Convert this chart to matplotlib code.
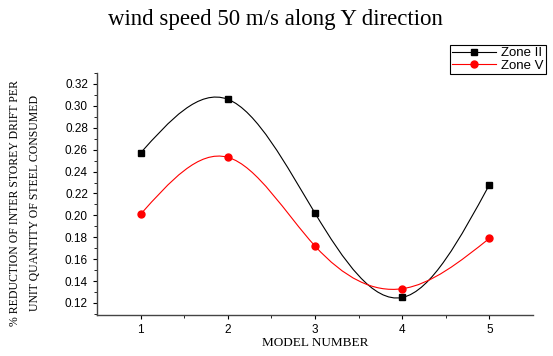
import numpy as np
import matplotlib.pyplot as plt
from matplotlib.path import Path
from matplotlib.patches import PathPatch
from matplotlib.lines import Line2D

models = [1, 2, 3, 4, 5]
zone2 = [0.257, 0.306, 0.202, 0.125, 0.228]
zone5 = [0.201, 0.253, 0.172, 0.133, 0.179]
xticks = [1, 2, 3, 4, 5]
yticks = [0.12, 0.14, 0.16, 0.18, 0.20, 0.22, 0.24, 0.26, 0.28, 0.30, 0.32]


def spline_path(x, y):
    # natural cubic spline through the points, as bezier segments
    x = np.asarray(x, float)
    y = np.asarray(y, float)
    n = len(x)
    h = np.diff(x)
    A = np.zeros((n, n))
    b = np.zeros(n)
    A[0, 0] = A[-1, -1] = 1
    for i in range(1, n - 1):
        A[i, i - 1] = h[i - 1]
        A[i, i] = 2 * (h[i - 1] + h[i])
        A[i, i + 1] = h[i]
        b[i] = 6 * ((y[i + 1] - y[i]) / h[i] - (y[i] - y[i - 1]) / h[i - 1])
    M = np.linalg.solve(A, b)
    d = np.zeros(n)
    for i in range(n - 1):
        d[i] = (y[i + 1] - y[i]) / h[i] - h[i] * (2 * M[i] + M[i + 1]) / 6
    d[-1] = (y[-1] - y[-2]) / h[-1] + h[-1] * (M[-2] + 2 * M[-1]) / 6
    verts = [(x[0], y[0])]
    codes = [Path.MOVETO]
    for i in range(n - 1):
        verts += [(x[i] + h[i] / 3, y[i] + d[i] * h[i] / 3),
                  (x[i + 1] - h[i] / 3, y[i + 1] - d[i + 1] * h[i] / 3),
                  (x[i + 1], y[i + 1])]
        codes += [Path.CURVE4] * 3
    return Path(verts, codes)


fig = plt.figure(figsize=(5.53, 3.56), dpi=100)
ax = fig.add_axes([97 / 553, 1 - 315 / 356, 436 / 553, 242 / 356])

for ys, col in [(zone2, 'black'), (zone5, 'red')]:
    ax.add_patch(PathPatch(spline_path(models, ys), fill=False, edgecolor=col, lw=0.8))
ax.plot(models, zone2, 's', color='black', ms=4.5)
ax.plot(models, zone5, 'o', color='red', ms=5)

ax.set_xlim(0.5, 5.5)
ax.set_ylim(0.109, 0.330)
ax.set_xticks(xticks)
ax.set_yticks(yticks)
ax.set_xticks([1.5, 2.5, 3.5, 4.5], minor=True)
ax.set_yticks(np.arange(0.11, 0.33, 0.02), minor=True)
ax.set_yticklabels(['%.2f' % v for v in yticks])
ax.tick_params(labelsize=8.5, direction='out', length=3, width=0.8, colors='black')
ax.tick_params(which='minor', direction='out', length=2, width=0.6)
for lab in ax.get_xticklabels() + ax.get_yticklabels():
    lab.set_family('Liberation Sans')
ax.spines['top'].set_visible(False)
ax.spines['right'].set_visible(False)
for s in ['left', 'bottom']:
    ax.spines[s].set_color('#444444')
    ax.spines[s].set_linewidth(1.0)

fig.text(275 / 553, 1 - 20 / 356, 'wind speed 50 m/s along Y direction',
         ha='center', va='center', family='Liberation Serif', fontsize=16.5)
fig.text(315 / 553, 1 - 343 / 356, 'MODEL NUMBER', ha='center', va='center',
         family='Liberation Serif', fontsize=9.5)
fig.text(15 / 553, 1 - 203 / 356, '% REDUCTION OF INTER STOREY DRIFT PER',
         rotation=90, ha='center', va='center', family='Liberation Serif', fontsize=8.5)
fig.text(35 / 553, 1 - 203 / 356, 'UNIT QUANTITY OF STEEL CONSUMED',
         rotation=90, ha='center', va='center', family='Liberation Serif', fontsize=8.5)

handles = [Line2D([], [], color='black', marker='s', ms=4.5, lw=0.8),
           Line2D([], [], color='red', marker='o', ms=5, lw=0.8)]
leg = fig.legend(handles, ['Zone II', 'Zone V'], loc='upper left',
                 bbox_to_anchor=(450 / 553, 1 - 45 / 356),
                 prop={'family': 'Liberation Sans', 'size': 9.5},
                 fancybox=False, edgecolor='black', framealpha=1,
                 borderpad=0.15, labelspacing=0.05, handlelength=3.3,
                 handletextpad=0.45, borderaxespad=0)
leg.get_frame().set_linewidth(0.8)

fig.savefig('out.png', dpi=100)
